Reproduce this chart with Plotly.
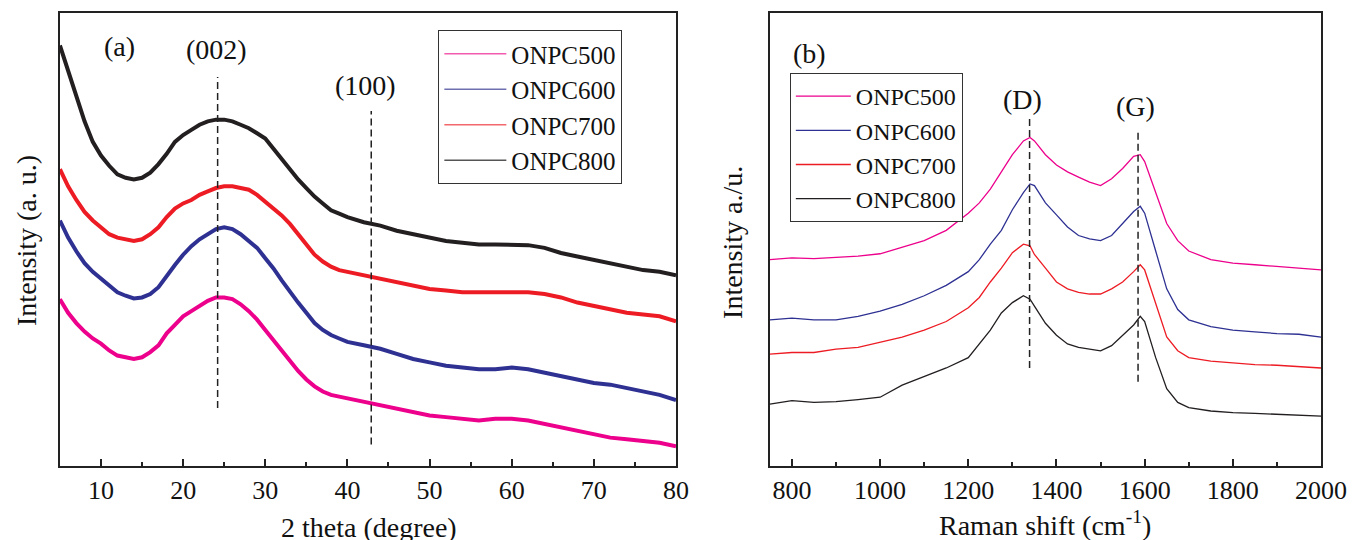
import plotly.graph_objects as go

# ---------------- XRD data (panel a) ----------------
xrd_theta = [5, 6, 7, 8, 9, 10, 11, 12, 13, 14, 15, 16, 17, 18, 19, 20, 21, 22, 23, 24,
             25, 26, 27, 28, 29, 30, 31, 32, 33, 34, 35, 36, 37, 38, 39, 40,
             42, 44, 46, 48, 50, 52, 54, 56, 58, 60, 62, 64, 66, 68, 70, 72, 74, 76, 78, 80]
xrd_onpc500 = [488, 448, 418, 393, 373, 358, 338, 323, 318, 313, 318, 333, 353, 388, 413, 438, 453, 468, 483, 493,
               493, 488, 473, 453, 428, 398, 368, 338, 308, 278, 253, 233, 218, 208, 203, 198,
               188, 178, 168, 158, 148, 143, 138, 133, 138, 138, 133, 123, 113, 103, 93, 83, 78, 73, 68, 58]
xrd_onpc600 = [718, 668, 628, 593, 568, 548, 528, 508, 498, 490, 493, 503, 523, 558, 588, 618, 643, 663, 678, 693,
               698, 693, 678, 658, 638, 608, 578, 543, 508, 478, 448, 418, 398, 383, 373, 363,
               353, 343, 328, 313, 303, 293, 288, 283, 283, 288, 283, 273, 263, 253, 243, 238, 228, 218, 208, 193]
xrd_onpc700 = [868, 818, 778, 743, 718, 698, 678, 668, 663, 658, 663, 678, 698, 728, 753, 768, 778, 793, 803, 813,
               818, 818, 813, 808, 793, 773, 753, 733, 708, 678, 648, 618, 598, 583, 573, 568,
               558, 548, 538, 528, 518, 513, 508, 508, 508, 510, 508, 503, 493, 478, 468, 458, 448, 443, 438, 423]
xrd_onpc800 = [1230, 1158, 1078, 1008, 948, 908, 878, 853, 843, 838, 843, 858, 883, 913, 948, 968, 983, 998, 1008, 1013,
               1013, 1008, 998, 988, 973, 958, 928, 898, 868, 838, 813, 788, 768, 748, 738, 728,
               713, 703, 688, 678, 668, 658, 653, 648, 648, 648, 646, 638, 623, 613, 603, 593, 583, 573, 568, 558]

# ---------------- Raman data (panel b) ----------------
raman_shift = [750, 800, 850, 900, 950, 1000, 1050, 1100, 1150, 1200, 1225, 1250, 1275, 1300, 1325, 1340,
               1350, 1375, 1400, 1425, 1450, 1475, 1500, 1525, 1550, 1575, 1590, 1600, 1625, 1650, 1675,
               1700, 1750, 1800, 1850, 1900, 1950, 2000]
raman_onpc500 = [570, 575, 573, 577, 580, 587, 605, 625, 655, 705, 735, 775, 825, 875, 915, 925,
                 915, 875, 845, 825, 810, 795, 785, 805, 835, 870, 875, 855, 765, 675, 625,
                 595, 570, 560, 555, 550, 547, 540]
raman_onpc600 = [395, 400, 395, 395, 405, 420, 440, 465, 495, 535, 570, 615, 655, 715, 765, 790,
                 785, 735, 700, 665, 640, 630, 625, 640, 675, 710, 725, 705, 595, 485, 425,
                 395, 375, 365, 360, 355, 353, 345]
raman_onpc700 = [295, 300, 300, 310, 315, 330, 345, 365, 390, 430, 460, 505, 545, 590, 615, 610,
                 585, 545, 505, 485, 475, 470, 470, 485, 505, 535, 555, 540, 445, 345, 305,
                 285, 275, 270, 265, 263, 260, 255]
raman_onpc800 = [150, 160, 155, 157, 163, 170, 205, 230, 255, 285, 325, 365, 415, 445, 465, 455,
                 435, 385, 350, 325, 315, 310, 305, 320, 350, 380, 405, 390, 285, 195, 155,
                 140, 130, 125, 123, 120, 117, 115]

series_names = ["ONPC500", "ONPC600", "ONPC700", "ONPC800"]
colors = ["#EC008C", "#2E3192", "#ED1C24", "#231F20"]
legend_colors_a = ["#F25CB0", "#6E6FB0", "#F2676B", "#555555"]

# reference-line positions
xrd_peaks = [24.2, 42.9]
xrd_peak_spans = [(170, 1138), (63, 1038)]
raman_peaks = [1339, 1585]
raman_peak_spans = [(255, 990), (215, 950)]

FONT = "Liberation Serif"
W, H = 1353, 540          # target picture size (positions are laid out in this space)
FIG_W = 1377              # page width that is shown squeezed into the picture

fig = go.Figure()

xrd_series = [xrd_onpc500, xrd_onpc600, xrd_onpc700, xrd_onpc800]
raman_series = [raman_onpc500, raman_onpc600, raman_onpc700, raman_onpc800]

for name, ys, c in zip(series_names, xrd_series, colors):
    fig.add_trace(go.Scatter(x=xrd_theta, y=ys, mode="lines", name=name,
                             line=dict(color=c, width=4), xaxis="x", yaxis="y",
                             showlegend=False))
# legend entries for panel (a) drawn with thin sample lines
for name, c in zip(series_names, legend_colors_a):
    fig.add_trace(go.Scatter(x=[None], y=[None], mode="lines", name=name,
                             line=dict(color=c, width=1.5), xaxis="x", yaxis="y",
                             legend="legend", legendgroup="a" + name))
for name, ys, c in zip(series_names, raman_series, colors):
    fig.add_trace(go.Scatter(x=raman_shift, y=ys, mode="lines", name=name,
                             line=dict(color=c, width=1.3), xaxis="x2", yaxis="y2",
                             legend="legend2", legendgroup="b" + name))

axis_common = dict(showline=True, mirror=True, linecolor="#222", linewidth=1.7,
                   showgrid=False, zeroline=False)

fig.update_layout(
    width=FIG_W, height=H, autosize=False,
    margin=dict(l=0, r=0, t=0, b=0),
    paper_bgcolor="white", plot_bgcolor="white",
    font=dict(family=FONT, size=25, color="#111"),
    xaxis=dict(domain=[60 / W, 677 / W], range=[5, 80], anchor="y",
               tickmode="array", tickvals=[10, 20, 30, 40, 50, 60, 70, 80],
               ticks="inside", ticklen=7, tickwidth=1.5, tickcolor="#222",
               minor=dict(ticks="inside", ticklen=4, tickwidth=1.5, tickcolor="#222", dtick=5, tick0=5),
               ticklabelstandoff=0,
               tickfont=dict(family=FONT, size=26, color="#111"), **axis_common),
    yaxis=dict(domain=[0.137, 0.976], range=[0, 1325], anchor="x",
               showticklabels=False, ticks="", **axis_common),
    xaxis2=dict(domain=[771 / W, 1323 / W], range=[750, 2000], anchor="y2",
                tickmode="array", tickvals=[800, 1000, 1200, 1400, 1600, 1800, 2000],
                ticks="inside", ticklen=7, tickwidth=1.5, tickcolor="#222",
                minor=dict(ticks="inside", ticklen=4, tickwidth=1.5, tickcolor="#222", dtick=100, tick0=700),
                ticklabelstandoff=0,
                tickfont=dict(family=FONT, size=26, color="#111"), **axis_common),
    yaxis2=dict(domain=[0.137, 0.976], range=[-30, 1287], anchor="x2",
                showticklabels=False, ticks="", **axis_common),
    legend=dict(x=439 / W, y=1 - 30 / H, xanchor="left", yanchor="top",
                bgcolor="white", bordercolor="#333", borderwidth=1,
                font=dict(family=FONT, size=25, color="#111"),
                tracegroupgap=0, itemwidth=62),
    legend2=dict(x=791 / W, y=1 - 73 / H, xanchor="left", yanchor="top",
                 bgcolor="white", bordercolor="#333", borderwidth=1,
                 font=dict(family=FONT, size=24, color="#111"),
                 tracegroupgap=0, itemwidth=55),
    showlegend=True,
)

shapes = []
for xp, (y0, y1) in zip(xrd_peaks, xrd_peak_spans):
    shapes.append(dict(type="line", xref="x", yref="y", x0=xp, x1=xp, y0=y0, y1=y1,
                       line=dict(color="#222", width=1.5, dash="7px,4px")))
for xp, (y0, y1) in zip(raman_peaks, raman_peak_spans):
    shapes.append(dict(type="line", xref="x2", yref="y2", x0=xp, x1=xp, y0=y0, y1=y1,
                       line=dict(color="#222", width=1.5, dash="7px,4px")))
fig.update_layout(shapes=shapes)

def px_ann(text, xp, yp, size=28, angle=0):
    return dict(text=text, x=xp / W, y=1 - yp / H, xref="paper", yref="paper",
                xanchor="center", yanchor="middle", showarrow=False, textangle=angle,
                font=dict(family=FONT, size=size, color="#111"))

fig.update_layout(annotations=[
    px_ann("(a)", 120, 47),
    px_ann("(002)", 217, 49),
    px_ann("(100)", 366, 86),
    px_ann("(b)", 811, 54),
    px_ann("(D)", 1024, 99),
    px_ann("(G)", 1137, 106),
    px_ann("Intensity (a. u.)", 26, 240, size=28, angle=-90),
    px_ann("Intensity a./u.", 733, 242, size=28, angle=-90),
    px_ann("2 theta (degree)", 370, 527, size=28),
    px_ann("Raman shift (cm<sup>-1</sup>)", 1047, 523, size=28),
])

fig.write_html("out.html",
               config={"responsive": False, "displayModeBar": False},
               default_width=f"{FIG_W}px", default_height=f"{H}px",
               post_script="document.body.style.margin='0';document.body.style.overflow='hidden';")
